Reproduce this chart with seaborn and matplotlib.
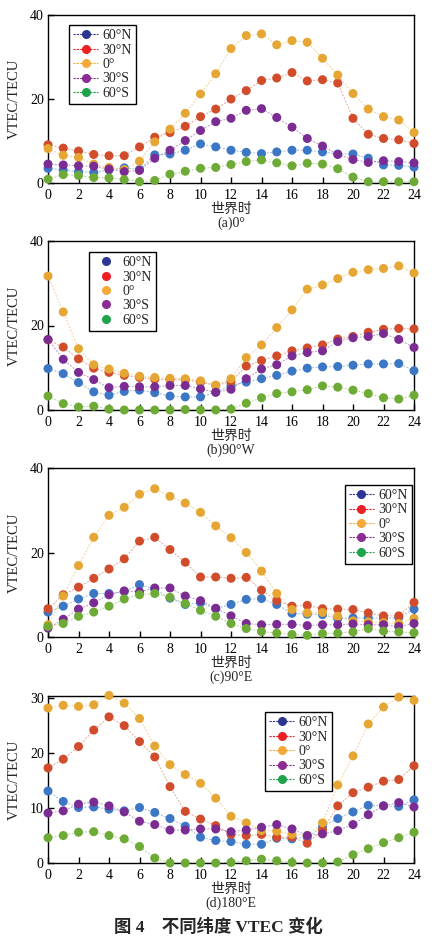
import numpy as np
import pandas as pd
import matplotlib
matplotlib.use("Agg")
import matplotlib.pyplot as plt
import seaborn as sns
from matplotlib.lines import Line2D

sns.set_theme(style="white")
plt.rcParams['font.family'] = ['Liberation Serif', 'Noto Sans CJK SC']
plt.rcParams['axes.unicode_minus'] = False

HOURS = list(range(25))
LATS = ["60°N", "30°N", "0°", "30°S", "60°S"]
PANELS = ["(a)0°", "(b)90°W", "(c)90°E", "(d)180°E"]

# (a) 0°
A_60N = [3.5, 3.1, 2.7, 2.5, 3.1, 3.6, 3.2, 6.7, 6.9, 7.8, 9.3, 8.6, 7.8, 7.3, 7.0, 7.4, 7.8, 7.8, 7.4, 6.9, 6.9, 5.9, 4.3, 4.2, 3.8]
A_30N = [9.1, 8.3, 7.6, 6.8, 6.5, 6.5, 8.6, 10.9, 12.0, 13.5, 15.8, 17.6, 20.0, 22.0, 24.4, 25.0, 26.3, 24.3, 24.6, 23.8, 15.4, 11.6, 10.6, 10.3, 9.4]
A_EQ = [8.2, 6.6, 6.1, 4.5, 3.7, 3.2, 5.2, 9.8, 12.8, 16.6, 21.2, 26.0, 32.0, 35.1, 35.5, 32.9, 33.9, 33.5, 29.7, 25.7, 21.3, 17.6, 15.8, 15.0, 12.0]
A_30S = [4.5, 4.3, 4.1, 4.0, 3.3, 2.7, 3.0, 5.9, 7.8, 10.1, 12.5, 14.6, 15.4, 17.3, 17.7, 15.6, 13.3, 10.6, 8.8, 6.8, 5.6, 4.9, 5.3, 5.1, 4.8]
A_60S = [0.9, 2.0, 1.8, 1.3, 1.2, 0.8, 0.3, 0.6, 2.1, 2.8, 3.5, 3.7, 4.4, 5.1, 5.5, 4.8, 4.1, 4.7, 4.5, 3.4, 1.4, 0.3, 0.3, 0.3, 0.3]

# (b) 90°W
B_60N = [9.8, 8.6, 6.5, 4.3, 3.5, 4.4, 4.7, 4.1, 3.3, 3.1, 3.1, 4.2, 5.8, 6.6, 7.4, 8.2, 9.2, 9.9, 10.2, 10.3, 10.6, 10.9, 10.9, 11.0, 9.3]
B_30N = [16.6, 14.9, 12.1, 9.9, 8.9, 8.2, 7.7, 7.3, 7.2, 7.1, 6.6, 5.8, 6.7, 10.4, 11.7, 12.8, 14.0, 14.7, 15.4, 16.8, 17.4, 18.4, 19.1, 19.3, 19.2]
B_EQ = [31.7, 23.2, 14.5, 10.7, 9.7, 8.7, 8.0, 7.7, 7.5, 7.4, 6.9, 5.9, 7.4, 12.4, 15.4, 19.5, 23.7, 28.6, 29.6, 31.1, 32.6, 33.2, 33.5, 34.1, 32.4]
B_30S = [16.7, 12.0, 8.9, 7.2, 5.3, 5.6, 5.5, 5.5, 5.8, 5.8, 5.0, 4.2, 4.9, 7.4, 9.7, 10.7, 12.8, 13.6, 14.0, 16.2, 17.1, 17.4, 18.1, 16.7, 14.8]
B_60S = [3.3, 1.5, 0.7, 0.9, 0.2, 0.0, 0.0, 0.0, 0.0, 0.1, 0.0, 0.0, 0.2, 1.6, 2.9, 3.9, 4.3, 4.8, 5.7, 5.4, 4.7, 3.9, 2.9, 2.6, 3.5]

# (c) 90°E
C_60N = [5.9, 7.3, 9.0, 10.3, 10.3, 10.8, 12.4, 11.3, 9.2, 7.7, 8.1, 6.7, 7.7, 8.9, 9.1, 7.7, 5.6, 5.4, 5.3, 4.4, 4.5, 4.5, 4.4, 4.6, 6.6]
C_30N = [6.7, 10.0, 11.8, 13.9, 16.1, 18.5, 22.7, 23.6, 20.7, 17.7, 14.2, 14.2, 13.9, 14.1, 11.1, 8.6, 7.3, 7.5, 6.7, 6.6, 6.5, 5.7, 5.0, 5.0, 8.2]
C_EQ = [2.9, 9.7, 16.9, 23.6, 28.8, 30.7, 33.8, 35.1, 33.3, 31.7, 29.5, 26.3, 23.5, 20.0, 15.6, 10.3, 6.5, 5.7, 5.8, 4.9, 3.8, 3.6, 3.4, 3.2, 4.4]
C_30S = [2.1, 4.2, 6.6, 8.1, 10.0, 10.9, 10.7, 11.6, 11.6, 9.7, 8.6, 6.8, 5.0, 3.2, 2.9, 3.0, 3.0, 2.7, 2.9, 2.9, 3.1, 2.9, 2.9, 2.5, 3.2]
C_60S = [2.5, 3.2, 4.9, 5.9, 7.3, 9.0, 10.0, 10.3, 9.4, 7.9, 6.3, 4.9, 3.2, 2.0, 1.3, 0.9, 0.6, 0.4, 0.8, 0.9, 1.2, 2.0, 1.4, 1.2, 1.0]

# (d) 180°E
D_60N = [13.1, 11.2, 10.1, 10.2, 9.8, 9.5, 10.1, 9.2, 8.1, 6.7, 4.7, 4.1, 3.9, 3.4, 3.4, 4.5, 4.4, 4.7, 6.6, 8.1, 9.3, 10.5, 10.4, 10.3, 11.5]
D_30N = [17.3, 18.9, 21.2, 24.2, 26.6, 25.0, 22.1, 19.3, 13.9, 9.4, 8.0, 6.8, 5.2, 5.0, 5.2, 4.7, 4.7, 3.6, 6.0, 10.4, 12.8, 13.8, 14.9, 15.2, 17.7]
D_EQ = [28.2, 28.7, 28.5, 28.8, 30.5, 29.1, 26.3, 21.3, 17.9, 16.1, 14.5, 11.8, 8.5, 7.3, 5.9, 5.8, 5.2, 5.0, 7.3, 14.2, 19.5, 25.3, 28.4, 30.2, 29.6]
D_30S = [9.1, 9.5, 10.7, 11.1, 10.4, 9.3, 7.6, 7.0, 6.0, 6.0, 6.2, 6.2, 5.7, 6.0, 6.5, 7.0, 6.2, 5.0, 5.3, 5.9, 7.0, 8.8, 10.4, 11.0, 10.2]
D_60S = [4.6, 5.0, 5.6, 5.7, 5.0, 4.4, 3.0, 0.9, 0.0, 0.0, 0.0, 0.0, 0.1, 0.4, 0.7, 0.4, 0.1, 0.0, 0.0, 0.2, 1.5, 2.6, 3.7, 4.6, 5.6]

SERIES = [
    [A_60N, A_30N, A_EQ, A_30S, A_60S],
    [B_60N, B_30N, B_EQ, B_30S, B_60S],
    [C_60N, C_30N, C_EQ, C_30S, C_60S],
    [D_60N, D_30N, D_EQ, D_30S, D_60S],
]

rows = []
for p, panel in enumerate(PANELS):
    for lat, vals in zip(LATS, SERIES[p]):
        for h, v in zip(HOURS, vals):
            rows.append({"panel": panel, "lat": lat, "hour": h, "vtec": v})
df = pd.DataFrame(rows)

DOT_COLORS = ["#3c77c5", "#d14c2b", "#e6a633", "#7b2c93", "#6dab36"]
KEY_COLORS = ["#2c3593", "#ec2024", "#f6a93b", "#8b2b93", "#1ea24b"]

W, H = 437, 940
fig = plt.figure(figsize=(W / 100, H / 100), dpi=100)

# axes boxes in pixels: top, bottom
boxes = [(15, 183), (241, 410), (468, 637), (696, 863)]
left_px, right_px = 48, 414
legend_pos = [(0.057, 0.94), (0.112, 0.935), (0.811, 0.90), (0.593, 0.904)]
ylims = [(0, 40), (0, 40), (0, 40), (0, 30.4)]
yticks = [[0, 20, 40], [0, 20, 40], [0, 20, 40], [0, 10, 20, 30]]

for i, panel in enumerate(PANELS):
    top, bot = boxes[i]
    ax = fig.add_axes([left_px / W, 1 - bot / H, (right_px - left_px) / W, (bot - top) / H])
    sub = df[df["panel"] == panel]
    sns.lineplot(data=sub, x="hour", y="vtec", hue="lat", hue_order=LATS,
                 palette=DOT_COLORS, linewidth=0.7, alpha=0.5,
                 linestyle=(0, (2, 1.5)), errorbar=None, legend=False, ax=ax)
    sns.scatterplot(data=sub, x="hour", y="vtec", hue="lat", hue_order=LATS,
                    palette=DOT_COLORS, s=42, edgecolor="none", linewidth=0,
                    legend=False, ax=ax, clip_on=False, zorder=3)
    ax.set_xlim(0, 24)
    ax.set_ylim(*ylims[i])
    ax.set_xticks(range(0, 25, 2))
    ax.set_yticks(yticks[i])
    ax.tick_params(direction="in", length=4, width=1, labelsize=10,
                   bottom=True, left=True, top=False, right=False, colors="black")
    ax.tick_params(axis="x", pad=4)
    ax.tick_params(axis="y", pad=3)
    for sp in ax.spines.values():
        sp.set_color("black")
        sp.set_linewidth(1)
    ax.set_xlabel("")
    ax.set_ylabel("VTEC/TECU", fontsize=10.5)
    ax.yaxis.set_label_coords(-0.075, 0.5)

    ls = "none" if i == 1 else (0, (2, 1))
    handles = [Line2D([0], [0], color=c, marker="o", markersize=5.5, linestyle=ls,
                      linewidth=0.8) for c in KEY_COLORS]
    leg = ax.legend(handles, LATS, loc="upper left", bbox_to_anchor=legend_pos[i],
                    frameon=True, fancybox=False, edgecolor="black", framealpha=1,
                    borderpad=0.3, labelspacing=0.1, handlelength=1.8,
                    handletextpad=0.3, borderaxespad=0, fontsize=10)
    leg.get_frame().set_linewidth(1)

    fig.text(231 / W, 1 - (bot + 26) / H, "世界时", ha="center", va="center", fontsize=10)
    fig.text(231 / W, 1 - (bot + 40) / H, PANELS[i], ha="center", va="center", fontsize=10)

fig.text(218 / W, 1 - 927 / H, "图 4　不同纬度 VTEC 变化", ha="center", va="center",
         fontsize=12.5, fontweight="bold")

fig.savefig("out.png", dpi=100)
